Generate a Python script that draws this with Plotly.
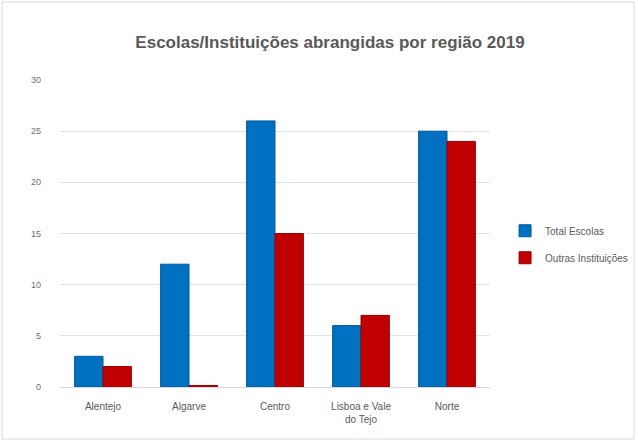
import plotly.graph_objects as go

categories = ["Alentejo", "Algarve", "Centro", "Lisboa e Vale<br>do Tejo", "Norte"]
total_escolas = [3, 12, 26, 6, 25]
outras_instituicoes = [2, 0.15, 15, 7, 24]
series_names = ["Total Escolas", "Outras Instituições"]
y_ticks = [0, 5, 10, 15, 20, 25, 30]

W, H = 638, 443
ml, mr, mt, mb = 60, 148, 80, 56

fig = go.Figure()
fig.add_trace(go.Bar(x=categories, y=total_escolas, name=series_names[0], legendgroup="a",
                     marker=dict(color="#0070C0", line=dict(color="#005A9C", width=1))))
fig.add_trace(go.Bar(x=categories, y=outras_instituicoes, name=series_names[1], legendgroup="b",
                     marker=dict(color="#C00000", line=dict(color="#9A0000", width=1))))

pw = W - ml - mr
ph = H - mt - mb
fig.add_shape(type="rect", xref="paper", yref="paper",
              x0=(2 - ml) / pw, x1=(W - 4 - ml) / pw,
              y0=-(H - 4 - mt - ph) / ph, y1=1 + (mt - 2) / ph,
              line=dict(color="#D9D9D9", width=1), fillcolor="rgba(0,0,0,0)", layer="above")

fig.update_layout(
    width=W, height=H,
    margin=dict(l=ml, r=mr, t=mt, b=mb, autoexpand=False),
    paper_bgcolor="white", plot_bgcolor="white",
    barmode="group", bargap=0.34, bargroupgap=0.0,
    title=dict(text="<b>Escolas/Instituições abrangidas por região 2019</b>",
               x=330 / W, xref="container", xanchor="center", y=1 - 42 / H, yanchor="middle",
               font=dict(family="Liberation Sans, Arial", size=17, color="#595959")),
    font=dict(family="Liberation Sans, Arial", color="#595959"),
    xaxis=dict(showline=True, linecolor="#D9D9D9", tickfont=dict(size=10, color="#595959"),
               ticks="", showgrid=False, ticklabelstandoff=10),
    yaxis=dict(range=[0, 30], tickvals=y_ticks, showgrid=True, gridcolor="#E3E3E3",
               zeroline=False, tickfont=dict(size=9, color="#6F6F6F"), ticks="",
               ticklabelstandoff=18),
    legend=dict(x=1.035, y=0.465, yanchor="middle", xanchor="left",
                font=dict(size=10, color="#595959"), itemwidth=30, tracegroupgap=8),
)

fig.write_html("out.html", config={"displayModeBar": False},
               post_script="document.body.style.margin='0';")
